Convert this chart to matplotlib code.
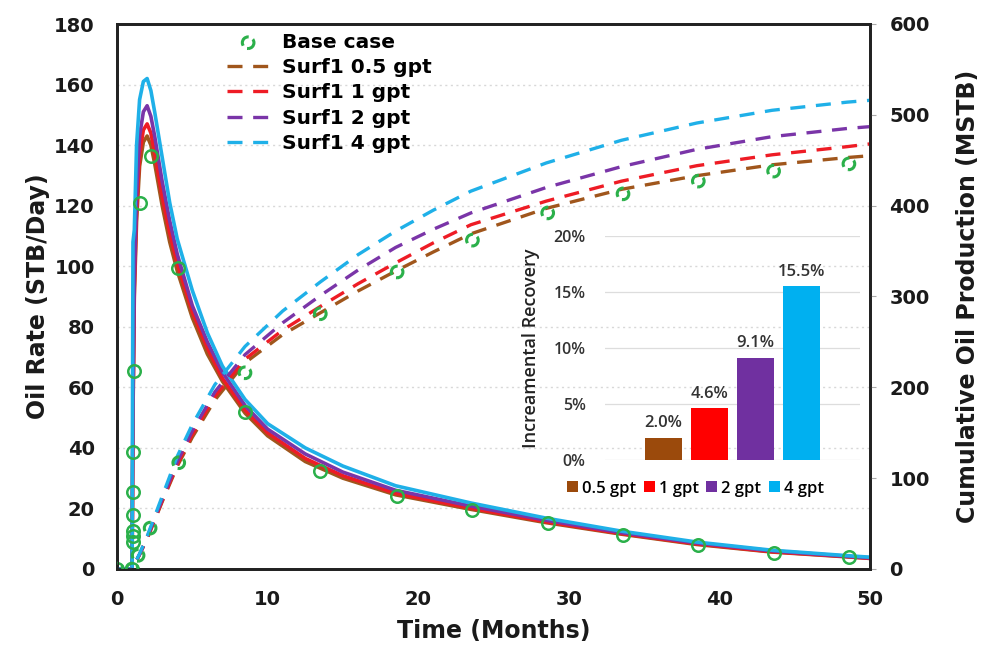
import matplotlib

matplotlib.use("Agg")
import matplotlib.pyplot as plt  # noqa: E402
import numpy as np  # noqa: E402

# ---- data ------------------------------------------------------------------
# oil rate (STB/Day), solid lines
t_rate = [0, 1.0, 1.06, 1.15, 1.3, 1.5, 1.75, 2.0, 2.25, 2.5, 3.0, 3.5, 4.0, 5, 6, 7,
          8.5, 10, 12.5, 15, 18.5, 23.5, 28.5, 33.5, 38.5, 43.5, 48.5, 50]
rate_05 = [0, 0, 50, 90, 115, 133, 141, 143, 140, 134, 120, 108, 98.5, 83, 71, 62,
           51.5, 44, 35.5, 30, 24.5, 19.7, 15.3, 11.5, 8.1, 5.6, 4.0, 3.5]
rate_1 = [0, 0, 52, 93, 119, 137, 145, 147, 144, 137.5, 123, 111, 101, 85, 73, 63,
          52.5, 45, 36.5, 30.8, 25, 20.1, 15.6, 11.7, 8.3, 5.7, 4.1, 3.5]
rate_2 = [0, 0, 55, 97, 124, 143, 151, 153, 149.5, 143, 128, 115, 104, 87, 75, 65,
          54, 46.2, 38, 32, 26, 20.8, 16.1, 12.0, 8.6, 6.0, 4.2, 3.7]
rate_4 = [0, 0, 108, 112, 140, 155, 161, 162, 158, 151, 136, 121, 109, 92, 78, 67,
          56, 48, 40, 34, 27.5, 21.8, 16.8, 12.5, 8.9, 6.2, 4.4, 3.9]

# cumulative oil (MSTB), dashed lines
t_cum = [0, 1.0, 1.5, 2.0, 3.0, 4.0, 5.0, 6.5, 8.5, 11, 13.5, 16, 18.5, 21, 23.5,
         28.5, 33.5, 38.5, 43.5, 48.5, 50]
cum_05 = [0, 0, 16, 33, 74, 113, 145, 186, 227, 258, 282, 306, 328, 349, 369,
          397, 418, 433, 445, 453, 455]
cum_1 = [0, 0, 16, 34, 75, 115, 148, 190, 231, 263, 289, 314, 337, 359, 379,
         405, 427, 444, 456, 465, 468]
cum_2 = [0, 0, 16, 35, 77, 118, 152, 195, 236, 271, 301, 329, 354, 374, 392,
         420, 443, 462, 476, 485, 487]
cum_4 = [0, 0, 17, 36, 80, 124, 159, 203, 245, 284, 316, 346, 372, 395, 416,
         447, 472, 491, 505, 514, 516]

# base case markers
base_t_rate = [0, 1.0, 1.06, 1.06, 1.06, 1.06, 1.06, 1.06, 1.13, 1.53, 2.26, 4.05,
               8.5, 13.5, 18.6, 23.6, 28.6, 33.6, 38.6, 43.6, 48.6]
base_rate = [0, 0, 8.9, 10.9, 12.5, 17.8, 25.4, 38.5, 65.5, 121, 136.5, 99.4,
             52, 32.5, 24.2, 19.5, 15.1, 11.2, 7.9, 5.4, 3.9]
base_t_cum = [0, 1.0, 1.4, 2.2, 4.1, 8.5, 13.5, 18.6, 23.6, 28.6, 33.6, 38.6, 43.6, 48.6]
base_cum = [0, 0, 15, 45, 117, 216, 281, 327, 362, 392, 413, 427, 438, 446]

# inset bar chart
bar_labels = ["0.5 gpt", "1 gpt", "2 gpt", "4 gpt"]
bar_values = [2.0, 4.6, 9.1, 15.5]

series_labels = ["Surf1 0.5 gpt", "Surf1 1 gpt", "Surf1 2 gpt", "Surf1 4 gpt"]
line_colors = ["#a0561c", "#ee1c25", "#7a35a8", "#1fb0e8"]
bar_colors = ["#9b4a0c", "#ff0000", "#7030a0", "#00b0f0"]
green = "#2bb04a"

# ---- figure -----------------------------------------------------------------
fig = plt.figure(figsize=(10.02, 6.54), dpi=100)
ax = fig.add_axes([117 / 1002, 1 - 569 / 654, 753 / 1002, 545 / 654])
ax2 = ax.twinx()

for ys, c in zip([rate_05, rate_1, rate_2, rate_4], line_colors):
    ax.plot(t_rate, ys, color=c, lw=2.6, solid_joinstyle="round")
ax.plot(base_t_rate, base_rate, ls="none", marker="o", ms=9, mfc="none",
        mec=green, mew=1.8)

handles = []
for ys, c, lab in zip([cum_05, cum_1, cum_2, cum_4], line_colors, series_labels):
    (h,) = ax2.plot(t_cum, ys, color=c, lw=2.4, dashes=(4.5, 3.2), label=lab)
    handles.append(h)
hb = ax2.scatter(base_t_cum, base_cum, s=70, facecolors="none", edgecolors=green,
                 linewidths=2.2, linestyles=(0, (4.2, 1.6)), label="Base case", zorder=5)

ax.set_xlim(0, 50)
ax.set_ylim(0, 180)
ax2.set_ylim(0, 600)
ax.set_xticks(np.arange(0, 51, 10))
ax.set_yticks(np.arange(0, 181, 20))
ax2.set_yticks(np.arange(0, 601, 100))

ax.set_axisbelow(True)
ax.yaxis.grid(True, linestyle=(0, (1.5, 2.5)), color="#d8d8d8", lw=1.0)

for lab in ax.get_xticklabels() + ax.get_yticklabels() + ax2.get_yticklabels():
    lab.set_fontfamily("DejaVu Sans")
    lab.set_fontweight("bold")
    lab.set_fontsize(14)
    lab.set_color("#1a1a1a")
ax.tick_params(axis="both", length=0)
ax.tick_params(axis="y", pad=16)
ax.tick_params(axis="x", pad=15)
ax2.tick_params(axis="y", length=4, color="#aaaaaa", pad=10)

label_font = dict(family="DejaVu Sans", weight="bold", size=17, color="#1a1a1a")
ax.set_xlabel("Time (Months)", labelpad=7, **label_font)
ax.set_ylabel("Oil Rate (STB/Day)", labelpad=3, **label_font)
ax2.set_ylabel("Cumulative Oil Production (MSTB)", labelpad=19, **label_font)

for a in (ax, ax2):
    for sp in a.spines.values():
        sp.set_linewidth(2.0)
        sp.set_color("#222222")

ax2.legend([hb] + handles, ["Base case"] + series_labels, loc="upper left",
           bbox_to_anchor=(227 / 1002, 1 - 33 / 654), bbox_transform=fig.transFigure,
           frameon=False, handlelength=2.1, handletextpad=0.62, labelspacing=0.31,
           borderpad=0, borderaxespad=0,
           prop=dict(family="DejaVu Sans", weight="bold", size=14.5))

# ---- inset: incremental recovery -------------------------------------------
inset_font = ["Open Sans", "DejaVu Sans"]
axi = fig.add_axes([605 / 1002, 1 - 460 / 654, 255 / 1002, 224 / 654])
axi.set_facecolor("none")
x = np.arange(len(bar_values))
bars = axi.bar(x, bar_values, width=0.8, color=bar_colors, zorder=3)
axi.set_xlim(-1.27, 4.27)
axi.set_ylim(0, 20)
axi.set_yticks([0, 5, 10, 15, 20])
axi.set_yticklabels(["0%", "5%", "10%", "15%", "20%"])
axi.set_xticks([])
axi.yaxis.grid(True, color="#dddddd", lw=0.9)
axi.set_axisbelow(True)
for sp in axi.spines.values():
    sp.set_visible(False)
axi.tick_params(axis="y", length=0, pad=14)
for lab in axi.get_yticklabels():
    lab.set_fontfamily(inset_font)
    lab.set_fontweight("semibold")
    lab.set_fontsize(11.5)
    lab.set_color("#333333")
for xi, v in zip(x, bar_values):
    axi.text(xi, v + 0.6, f"{v:.1f}%", ha="center", va="bottom", family=inset_font,
             weight="semibold", size=12, color="#333333")
axi.set_ylabel("Increamental Recovery", family=inset_font, weight="semibold",
               size=13, color="#222222", labelpad=10)
axi.legend(bars, bar_labels, loc="upper center", bbox_to_anchor=(0.355, -0.055), ncol=4,
           frameon=False, handlelength=0.65, handleheight=0.65, handletextpad=0.25,
           columnspacing=0.45, borderpad=0,
           prop=dict(family=inset_font, weight="semibold", size=12))

fig.savefig("out.png", dpi=100)
